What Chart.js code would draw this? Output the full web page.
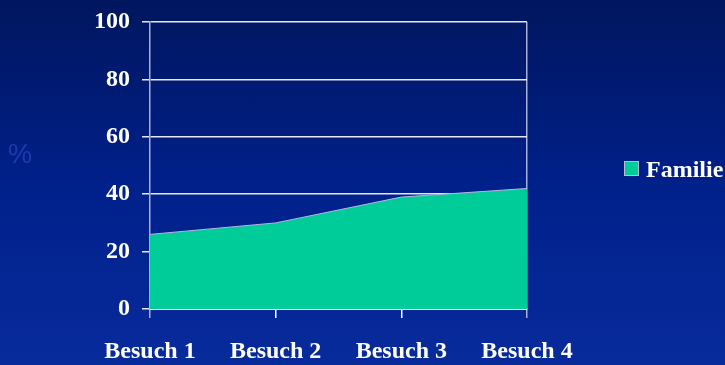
<!DOCTYPE html>
<html>
<head>
<meta charset="utf-8">
<script src="https://cdn.jsdelivr.net/npm/chart.js@4"></script>
<style>
  html, body { margin: 0; padding: 0; }
  body {
    width: 725px; height: 365px; overflow: hidden;
    background: linear-gradient(to bottom, #00165e 0%, #00208a 50%, #082b9c 100%);
  }
  #wrap { position: relative; width: 725px; height: 365px; }
  #unit {
    position: absolute; left: 8px; top: 139px;
    font: 27px "Liberation Sans", Arial, sans-serif; color: #1c3cae;
  }
</style>
</head>
<body>
<div id="wrap">
  <canvas id="visits" width="725" height="365"></canvas>
  <div id="unit">%</div>
</div>
<script>
// Share of "Familie" per visit, in percent
const visitLabels = ['Besuch 1', 'Besuch 2', 'Besuch 3', 'Besuch 4'];
const familieValues = [26, 30, 39, 42];
const yTicks = [0, 20, 40, 60, 80, 100];

const boldSerif = { family: '"Liberation Serif", "Times New Roman", serif', size: 24, weight: 'bold' };

// Legend drawn by hand so the box/text spacing can be set freely
const sideLegend = {
    id: 'sideLegend',
    afterDraw(chart) {
        const ctx = chart.ctx;
        const ds = chart.data.datasets[0];
        const x = 624, y = 161;
        ctx.save();
        ctx.fillStyle = ds.backgroundColor;
        ctx.fillRect(x, y, 15, 15);
        ctx.strokeStyle = '#b8bcd8';
        ctx.lineWidth = 1;
        ctx.strokeRect(x + 0.5, y + 0.5, 14, 14);
        ctx.font = 'bold 24px "Liberation Serif", "Times New Roman", serif';
        ctx.fillStyle = '#ffffff';
        ctx.textBaseline = 'alphabetic';
        ctx.fillText(ds.label, x + 22, 177);
        ctx.restore();
    }
};

new Chart(document.getElementById('visits'), {
    type: 'line',
    data: {
        labels: visitLabels,
        datasets: [{
            label: 'Familie',
            data: familieValues,
            backgroundColor: '#00cc99',
            borderColor: '#b4b6e0',
            borderWidth: 1,
            pointRadius: 0,
            tension: 0,
            fill: 'origin'
        }]
    },
    options: {
        responsive: false,
        animation: false,
        layout: { padding: { top: 22, right: 198, left: 0, bottom: 0 } },
        plugins: { legend: { display: false }, tooltip: { enabled: false } },
        scales: {
            x: {
                offset: false,
                afterFit: (axis) => { axis.height = 56; },
                grid: {
                    drawOnChartArea: true,
                    tickLength: 9,
                    color: (c) => (c.index === visitLabels.length - 1 ? '#aab0d4' : 'rgba(0,0,0,0)'),
                    tickColor: (c) => (c.index === 0 || c.index === visitLabels.length - 1 ? '#aab0d4' : '#ffffff'),
                    lineWidth: 1.5
                },
                border: { color: '#ffffff', width: 2 },
                ticks: { color: '#ffffff', font: boldSerif, padding: 19, maxRotation: 0 }
            },
            y: {
                min: 0,
                max: 100,
                afterFit: (axis) => { axis.width = 150; },
                afterBuildTicks: (axis) => { axis.ticks = yTicks.map(v => ({ value: v })); },
                grid: {
                    color: '#e6e8f4',
                    tickColor: '#e6e8f4',
                    tickLength: 8,
                    lineWidth: 1.5
                },
                border: { color: '#aab0d4', width: 1.5 },
                ticks: { color: '#ffffff', font: { ...boldSerif, lineHeight: 0.6 }, padding: 12 }
            }
        }
    },
    plugins: [sideLegend]
});
</script>
</body>
</html>
